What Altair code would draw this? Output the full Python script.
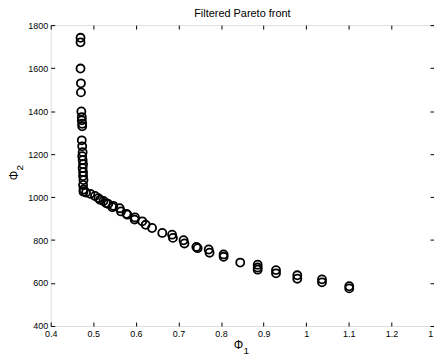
import altair as alt
import pandas as pd

# Filtered Pareto front points (Phi_1, Phi_2)
phi1 = [
    0.470, 0.470, 0.470, 0.471, 0.471, 0.472, 0.473, 0.473, 0.474, 0.474,
    0.473, 0.474, 0.475, 0.474, 0.475, 0.476, 0.475, 0.476, 0.476, 0.477,
    0.476, 0.477, 0.477,
    0.483, 0.493, 0.504, 0.512, 0.516, 0.524, 0.530, 0.535, 0.545, 0.547,
    0.562, 0.565, 0.578, 0.580, 0.597, 0.598, 0.615, 0.623, 0.638, 0.662,
    0.685, 0.687, 0.712, 0.714, 0.742, 0.745, 0.771, 0.773, 0.806, 0.806,
    0.845, 0.886, 0.886, 0.886, 0.929, 0.929, 0.979, 0.979, 1.037, 1.037,
    1.101, 1.101,
]
phi2 = [
    1741, 1720, 1598, 1529, 1487, 1398, 1372, 1357, 1341, 1329,
    1264, 1236, 1209, 1190, 1172, 1153, 1135, 1116, 1098, 1079,
    1056, 1035, 1025,
    1021, 1015, 1005, 995, 987, 982, 972, 968, 953, 959,
    948, 933, 922, 918, 895, 905, 887, 871, 856, 833,
    825, 810, 799, 784, 768, 762, 756, 741, 733, 722,
    695, 685, 672, 662, 660, 645, 636, 620, 617, 603,
    585, 575,
]

x_ticks = [0.4, 0.5, 0.6, 0.7, 0.8, 0.9, 1.0, 1.1, 1.2, 1.3]
y_ticks = [400, 600, 800, 1000, 1200, 1400, 1600, 1800]
title_text = "Filtered Pareto front"
x_symbol, x_sub = "Φ", "1"
y_symbol, y_sub = "Φ", "2"

W, H = 386, 303

df = pd.DataFrame({"phi1": phi1, "phi2": phi2})

FONT = "Liberation Sans"
xs = alt.Scale(domain=[0.4, 1.3], nice=False, zero=False)
ys = alt.Scale(domain=[400, 1800], nice=False, zero=False)

common = dict(domain=False, grid=False, tickSize=4, offset=-4, tickColor="black",
              tickWidth=1, labelFont=FONT, labelFontSize=9, labelColor="black",
              labelFlush=False, labelOverlap=False, title=None)

pts = alt.Chart(df).mark_point(
    shape="circle", filled=False, color="black", size=66, strokeWidth=1.8, opacity=1
).encode(
    x=alt.X("phi1:Q", scale=xs, axis=alt.Axis(
        orient="bottom", values=x_ticks, format="~g", labelPadding=4, **common)),
    y=alt.Y("phi2:Q", scale=ys, axis=alt.Axis(
        orient="left", values=y_ticks, format="d", labelPadding=3, **common)),
)

frame = alt.Chart(df).mark_point(opacity=0).encode(
    x=alt.X("phi1:Q", scale=xs, axis=alt.Axis(
        orient="top", values=x_ticks, labels=False, **common)),
    y=alt.Y("phi2:Q", scale=ys, axis=alt.Axis(
        orient="right", values=y_ticks, labels=False, **common)),
)

one = pd.DataFrame({"k": [0]})


def txt(s, x, y, size, angle=0):
    return alt.Chart(one).mark_text(
        text=s, font=FONT, fontSize=size, color="black", angle=angle,
        align="center", baseline="middle",
    ).encode(x=alt.value(x), y=alt.value(y))


xt = txt(x_symbol, W / 2 - 4, H + 19, 12)
xs_ = txt(x_sub, W / 2 + 4, H + 25, 10)
yt = txt(y_symbol, -37, H / 2, 12, angle=270)
ys_ = txt(y_sub, -31, H / 2 - 8, 10, angle=270)

chart = alt.layer(pts, frame, xt, xs_, yt, ys_).resolve_axis(
    x="independent", y="independent"
).properties(
    width=W, height=H,
    title=alt.TitleParams(title_text, font=FONT, fontSize=11,
                          fontWeight="normal", color="black", offset=2),
    autosize=alt.AutoSizeParams(type="none"),
    padding={"left": 43, "top": 16, "right": 0, "bottom": 32},
).configure_view(stroke="black", strokeWidth=1).configure(background="white")

chart.save("out.html", embed_options={"renderer": "svg", "actions": False})
